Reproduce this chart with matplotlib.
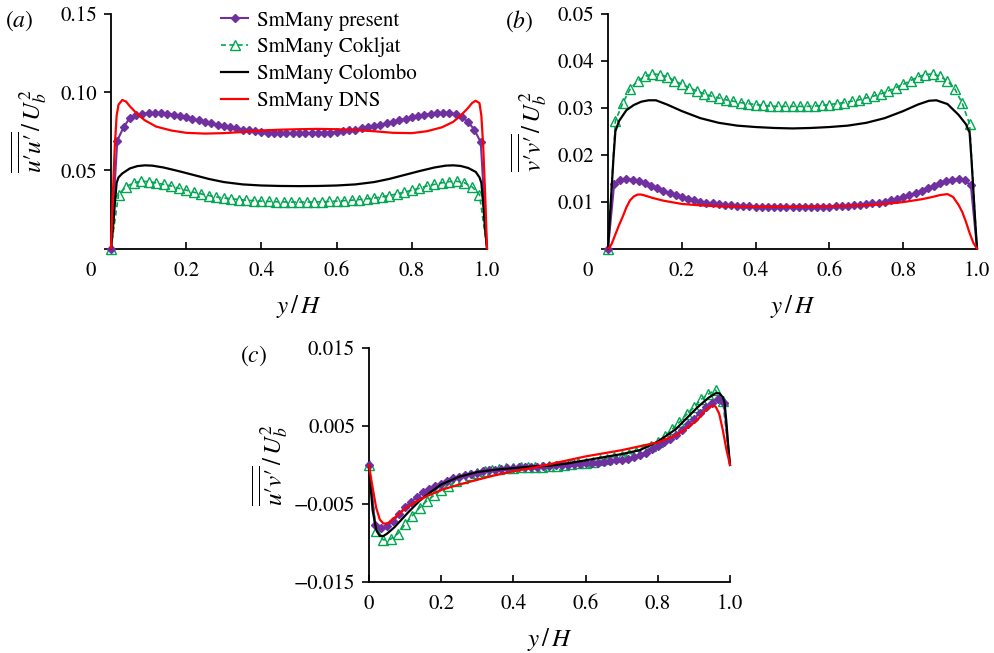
import numpy as np
import matplotlib
matplotlib.use("Agg")
import matplotlib.pyplot as plt
from matplotlib.lines import Line2D
from matplotlib.transforms import ScaledTranslation

plt.rcParams['font.family'] = ['STIXGeneral', 'Liberation Serif', 'DejaVu Serif']
plt.rcParams['mathtext.fontset'] = 'stix'

series_names = ["SmMany present", "SmMany Cokljat", "SmMany Colombo", "SmMany DNS"]
xticks = [0, 0.2, 0.4, 0.6, 0.8, 1.0]
xtick_labels = ["0", "0.2", "0.4", "0.6", "0.8", "1.0"]

# ---------------- panel (a): u'u' ----------------
a_present = [0, 0.069, 0.0775, 0.0835, 0.0855, 0.0863, 0.0866, 0.0867, 0.0866, 0.0862,
             0.0855, 0.0847, 0.0838, 0.0829, 0.0820, 0.0810, 0.0801, 0.0792, 0.0783, 0.0775,
             0.0768, 0.0761, 0.0755, 0.0750, 0.0746, 0.0742, 0.0740, 0.0738, 0.0737, 0.0736,
             0.0736, 0.0736, 0.0737, 0.0738, 0.0740, 0.0742, 0.0746, 0.0750, 0.0755, 0.0761,
             0.0768, 0.0775, 0.0783, 0.0792, 0.0801, 0.0810, 0.0820, 0.0829, 0.0838, 0.0847,
             0.0855, 0.0862, 0.0866, 0.0868, 0.0866, 0.0858, 0.0840, 0.0810, 0.0758, 0.068, 0]
a_cokljat = [0, 0.0345, 0.0395, 0.042, 0.043, 0.0428, 0.042, 0.041, 0.040, 0.0385,
             0.0373, 0.036, 0.0349, 0.0339, 0.033, 0.0323, 0.0318, 0.0313, 0.0309, 0.0306,
             0.0303, 0.0301, 0.0299, 0.0298, 0.0297, 0.0297,
             0.0297, 0.0298, 0.0299, 0.0301, 0.0303, 0.0306, 0.0309, 0.0313, 0.0318, 0.0323,
             0.033, 0.0339, 0.0349, 0.036, 0.0373, 0.0385, 0.040, 0.041, 0.042, 0.0428,
             0.043, 0.042, 0.0395, 0.0345, 0]
a_colombo_x = [0, 0.005, 0.01, 0.015, 0.02, 0.03, 0.05, 0.07, 0.09, 0.11, 0.14, 0.18, 0.22,
               0.26, 0.3, 0.35, 0.4, 0.45, 0.5, 0.55, 0.6, 0.65, 0.7, 0.74, 0.78, 0.82, 0.86,
               0.89, 0.91, 0.93, 0.95, 0.97, 0.98, 0.985, 0.99, 0.995, 1.0]
a_colombo = [0, 0.012, 0.028, 0.042, 0.0455, 0.048, 0.0512, 0.0527, 0.0532, 0.0530, 0.0518,
             0.0495, 0.047, 0.0445, 0.0425, 0.0410, 0.0403, 0.0400, 0.0399, 0.0400, 0.0403,
             0.0410, 0.0425, 0.0445, 0.047, 0.0495, 0.0518, 0.0530, 0.0532, 0.0528, 0.0515,
             0.049, 0.0455, 0.042, 0.028, 0.012, 0]
a_dns_x = [0, 0.005, 0.01, 0.015, 0.02, 0.03, 0.04, 0.05, 0.07, 0.09, 0.12, 0.16, 0.2, 0.25,
           0.3, 0.35, 0.4, 0.45, 0.5, 0.55, 0.6, 0.65, 0.7, 0.75, 0.8, 0.84, 0.88, 0.91, 0.93,
           0.95, 0.96, 0.97, 0.98, 0.985, 0.99, 0.995, 1.0]
a_dns = [0, 0.035, 0.065, 0.085, 0.092, 0.095, 0.094, 0.091, 0.086, 0.082, 0.078, 0.0755,
         0.074, 0.0735, 0.0738, 0.0745, 0.0755, 0.076, 0.0763, 0.0765, 0.0763, 0.0758, 0.075,
         0.074, 0.0738, 0.075, 0.0775, 0.081, 0.085, 0.09, 0.093, 0.0945, 0.093, 0.085, 0.065,
         0.035, 0]

# ---------------- panel (b): v'v' ----------------
b_present = [0, 0.0137, 0.0145, 0.0148, 0.0147, 0.0143, 0.0139, 0.0134, 0.0128, 0.0123,
             0.0118, 0.0114, 0.0110, 0.0106, 0.0103, 0.0100, 0.0098, 0.0096, 0.0094, 0.0093,
             0.0092, 0.0091, 0.0090, 0.0090, 0.0089, 0.0089, 0.0089, 0.0089, 0.0089, 0.0089,
             0.0089, 0.0089, 0.0089, 0.0089, 0.0089, 0.0089, 0.0089, 0.0090, 0.0090, 0.0091,
             0.0092, 0.0093, 0.0094, 0.0096, 0.0098, 0.0100, 0.0103, 0.0106, 0.0110, 0.0114,
             0.0118, 0.0123, 0.0128, 0.0134, 0.0139, 0.0143, 0.0147, 0.0148, 0.0145, 0.0135, 0]
b_cokljat = [0, 0.0272, 0.031, 0.034, 0.0357, 0.0367, 0.0372, 0.0371, 0.0366, 0.0358,
             0.0350, 0.0343, 0.0336, 0.0330, 0.0325, 0.0321, 0.0317, 0.0314, 0.0311, 0.0309,
             0.0307, 0.0305, 0.0304, 0.0303, 0.0303, 0.0303,
             0.0303, 0.0303, 0.0304, 0.0305, 0.0307, 0.0309, 0.0311, 0.0314, 0.0317, 0.0321,
             0.0325, 0.0330, 0.0336, 0.0343, 0.0350, 0.0358, 0.0366, 0.0371, 0.0372, 0.0367,
             0.0357, 0.034, 0.031, 0.0265, 0]
b_colombo_x = [0, 0.005, 0.01, 0.015, 0.02, 0.03, 0.05, 0.07, 0.09, 0.11, 0.13, 0.16, 0.2,
               0.25, 0.3, 0.35, 0.4, 0.45, 0.5, 0.55, 0.6, 0.65, 0.7, 0.75, 0.8, 0.84, 0.87,
               0.89, 0.92, 0.95, 0.97, 0.98, 0.985, 0.99, 0.995, 1.0]
b_colombo = [0, 0.0065, 0.013, 0.0195, 0.025, 0.0272, 0.0295, 0.0306, 0.0313, 0.0316, 0.0316,
             0.0307, 0.0293, 0.0278, 0.0268, 0.0262, 0.0259, 0.0257, 0.0256, 0.0257, 0.0259,
             0.0262, 0.0268, 0.0278, 0.0293, 0.0307, 0.0315, 0.0316, 0.0308, 0.0285, 0.0265,
             0.0247, 0.019, 0.0125, 0.006, 0]
b_dns_x = [0, 0.005, 0.01, 0.02, 0.03, 0.04, 0.05, 0.06, 0.07, 0.08, 0.09, 0.1, 0.12, 0.15,
           0.2, 0.25, 0.3, 0.4, 0.5, 0.6, 0.7, 0.75, 0.8, 0.85, 0.88, 0.9, 0.92, 0.935, 0.95,
           0.96, 0.97, 0.98, 0.99, 1.0]
b_dns = [0, 0.0003, 0.0010, 0.0030, 0.0050, 0.0068, 0.0088, 0.0103, 0.0111, 0.0115, 0.0115,
         0.0113, 0.0108, 0.0102, 0.0095, 0.0092, 0.0090, 0.0089, 0.0089, 0.0090, 0.0092,
         0.0095, 0.0099, 0.0105, 0.0110, 0.0114, 0.0116, 0.0110, 0.0093, 0.0078, 0.0057,
         0.0033, 0.0012, 0]

# ---------------- panel (c): u'v' ----------------
c_present = [0, -0.0077, -0.0081, -0.0078, -0.0072, -0.0063, -0.0054, -0.0047, -0.0041, -0.0035,
             -0.0031, -0.0027, -0.0024, -0.0020, -0.0017, -0.0015, -0.0013, -0.0011, -0.0010,
             -0.0008, -0.0007, -0.0006, -0.0005, -0.0004, -0.0004, -0.0003, -0.0003, -0.0002,
             -0.0002, -0.0001, -0.0001, 0.0000, 0.0000, 0.0000, 0.0001, 0.0001, 0.0002, 0.0003,
             0.0003, 0.0004, 0.0005, 0.0006, 0.0007, 0.0008, 0.0010, 0.0013, 0.0016, 0.0020,
             0.0025, 0.0029, 0.0033, 0.0039, 0.0045, 0.0052, 0.0059, 0.0067, 0.0074, 0.0080,
             0.0085, 0.0079, 0]
c_cokljat = [0, -0.0085, -0.0096, -0.0095, -0.0088, -0.0076, -0.0065, -0.0055, -0.0046, -0.0039,
             -0.0032, -0.0027, -0.0021, -0.0017, -0.0013, -0.0010, -0.0008, -0.0006, -0.0005,
             -0.0004, -0.0004, -0.0003, -0.0003, -0.0002, -0.0002, -0.0001, -0.0001, 0.0000,
             0.0001, 0.0002, 0.0003, 0.0004, 0.0006, 0.0008, 0.0010, 0.0012, 0.0014, 0.0017,
             0.0021, 0.0025, 0.0030, 0.0037, 0.0046, 0.0055, 0.0065, 0.0074, 0.0084, 0.0091,
             0.0096, 0.0082, 0]
c_colombo_x = [0, 0.005, 0.01, 0.02, 0.03, 0.04, 0.05, 0.07, 0.09, 0.11, 0.14, 0.17, 0.2, 0.25,
               0.3, 0.35, 0.4, 0.45, 0.5, 0.55, 0.6, 0.65, 0.7, 0.75, 0.8, 0.85, 0.88, 0.91,
               0.94, 0.96, 0.97, 0.98, 0.985, 0.99, 0.995, 1.0]
c_colombo = [0, -0.0030, -0.0058, -0.0083, -0.0091, -0.0091, -0.0088, -0.0080, -0.0070, -0.0060,
             -0.0046, -0.0035, -0.0025, -0.0015, -0.0009, -0.0006, -0.0004, -0.0002, -0.0001,
             0.0002, 0.0006, 0.0010, 0.0014, 0.0019, 0.0030, 0.0046, 0.0060, 0.0074, 0.0086,
             0.0092, 0.0092, 0.0087, 0.0080, 0.0055, 0.0025, 0]
c_dns_x = [0, 0.005, 0.01, 0.02, 0.03, 0.04, 0.05, 0.06, 0.08, 0.1, 0.13, 0.16, 0.2, 0.25, 0.3,
           0.35, 0.4, 0.45, 0.5, 0.55, 0.6, 0.65, 0.7, 0.75, 0.8, 0.85, 0.88, 0.91, 0.93, 0.95,
           0.96, 0.97, 0.98, 0.99, 1.0]
c_dns = [0, -0.0015, -0.0029, -0.0055, -0.0070, -0.0075, -0.0075, -0.0072, -0.0064, -0.0056,
         -0.0047, -0.0040, -0.0032, -0.0025, -0.0019, -0.0013, -0.0008, -0.0004, 0.0001, 0.0006,
         0.0011, 0.0015, 0.0019, 0.0024, 0.0029, 0.0038, 0.0047, 0.0058, 0.0069, 0.0076, 0.0075,
         0.0066, 0.0045, 0.0020, 0]

# ---------------- styling ----------------
PURPLE = '#7030A0'
GREEN = '#00A651'
RED = '#FF0000'
BLACK = '#000000'
FS = 15

fig = plt.figure(figsize=(9.95, 6.53), dpi=100)
W, H = 995.0, 653.0


def make_axes(left, right, top, bottom):
    return fig.add_axes([left / W, 1 - bottom / H, (right - left) / W, (bottom - top) / H])


def draw(ax, present, cokljat, colombo_x, colombo, dns_x, dns):
    xp = np.linspace(0, 1, len(present))
    xc = np.linspace(0, 1, len(cokljat))
    ax.plot(xc, cokljat, color=GREEN, lw=1.2, ls=(0, (3, 2)), marker='^', ms=6.5,
            mfc='none', mec=GREEN, mew=1.0, markevery=slice(0, len(cokljat) - 1),
            clip_on=False, zorder=2)
    ax.plot(xp, present, color=PURPLE, lw=1.5, marker='D', ms=4.5, mfc=PURPLE, mec=PURPLE,
            markevery=slice(0, len(present) - 1), clip_on=False, zorder=3)
    ax.plot(colombo_x, colombo, color=BLACK, lw=1.6, clip_on=False, zorder=4)
    ax.plot(dns_x, dns, color=RED, lw=1.6, clip_on=False, zorder=5)


def style(ax, ylim, yticks, yticklabels, shift_zero):
    ax.set_xlim(0, 1)
    ax.set_ylim(*ylim)
    for s in ['top', 'right']:
        ax.spines[s].set_visible(False)
    for s in ['left', 'bottom']:
        ax.spines[s].set_linewidth(1.3)
    ax.set_xticks(xticks)
    ax.set_xticklabels(xtick_labels, fontsize=FS)
    ax.set_yticks(yticks)
    ax.set_yticklabels(yticklabels, fontsize=FS)
    ax.tick_params(axis='y', direction='out', length=5, width=1.2, pad=5)
    ax.tick_params(axis='x', direction='in', length=5, width=1.2, pad=9)
    if shift_zero:
        off = ScaledTranslation(-0.20, 0, fig.dpi_scale_trans)
        lab = ax.get_xticklabels()[0]
        lab.set_transform(lab.get_transform() + off)
    ax.set_xlabel(r'$y\,/\,H$', fontsize=18)


# (a)
axa = make_axes(111, 487, 14, 248.5)
draw(axa, a_present, a_cokljat, a_colombo_x, a_colombo, a_dns_x, a_dns)
style(axa, (0, 0.15), [0, 0.05, 0.10, 0.15], ['', '0.05', '0.10', '0.15'], True)
axa.set_ylabel("$\\overline{\\overline{u\u2032u\u2032}}\\,/\\,U_b^2$", fontsize=18)
axa.yaxis.set_label_coords(-0.165, 0.5)
axa.xaxis.set_label_coords(0.5, -0.19)

# (b)
axb = make_axes(608, 977, 14, 248.5)
draw(axb, b_present, b_cokljat, b_colombo_x, b_colombo, b_dns_x, b_dns)
style(axb, (0, 0.05), [0, 0.01, 0.02, 0.03, 0.04, 0.05],
      ['', '0.01', '0.02', '0.03', '0.04', '0.05'], True)
axb.set_ylabel("$\\overline{\\overline{v\u2032v\u2032}}\\,/\\,U_b^2$", fontsize=18)
axb.yaxis.set_label_coords(-0.16, 0.5)
axb.xaxis.set_label_coords(0.5, -0.19)

# (c)
axc = make_axes(369, 730, 348, 582)
draw(axc, c_present, c_cokljat, c_colombo_x, c_colombo, c_dns_x, c_dns)
style(axc, (-0.015, 0.015), [-0.015, -0.005, 0.005, 0.015],
      ['\u22120.015', '\u22120.005', '0.005', '0.015'], False)
axc.set_ylabel("$\\overline{\\overline{u\u2032v\u2032}}\\,/\\,U_b^2$", fontsize=18)
axc.yaxis.set_label_coords(-0.22, 0.5)
axc.xaxis.set_label_coords(0.5, -0.19)

# panel tags
fig.text(5 / W, 1 - 21 / H, r'($a$)', fontsize=17, va='center', ha='left')
fig.text(505 / W, 1 - 21 / H, r'($b$)', fontsize=17, va='center', ha='left')
fig.text(240 / W, 1 - 356 / H, r'($c$)', fontsize=17, va='center', ha='left')

# legend
handles = [
    Line2D([], [], color=PURPLE, lw=1.5, marker='D', ms=4.5, mfc=PURPLE, mec=PURPLE),
    Line2D([], [], color=GREEN, lw=1.2, ls=(0, (3, 2)), marker='^', ms=6.5, mfc='none', mec=GREEN),
    Line2D([], [], color=BLACK, lw=1.6),
    Line2D([], [], color=RED, lw=1.6),
]
fig.legend(handles, series_names, loc='upper left', bbox_to_anchor=(221 / W, 1 - 11 / H),
           bbox_transform=fig.transFigure, frameon=False, fontsize=FS, numpoints=1,
           handlelength=1.3, handletextpad=0.45, labelspacing=0.32, borderpad=0,
           borderaxespad=0)

fig.savefig('out.png', dpi=100)
